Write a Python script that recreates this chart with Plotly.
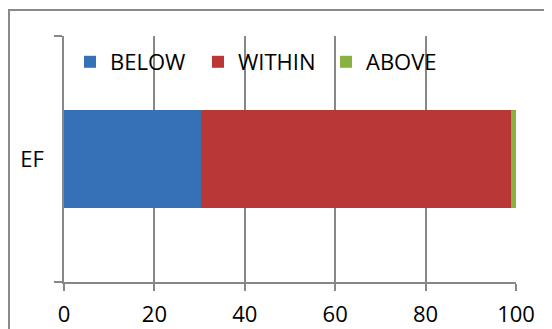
import plotly.graph_objects as go

categories = ["EF"]
series_names = ["BELOW", "WITHIN", "ABOVE"]
below = [30.4]
within = [68.4]
above = [1.2]
x_ticks = [0, 20, 40, 60, 80, 100]

colors = ["#3670b6", "#b93836", "#89b13f"]
values = [below, within, above]

W, H = 552, 329
OFF = 8  # page body margin
L, R, T, B = 64 - OFF, 516 - OFF, 36 - OFF, 282 - OFF

fig = go.Figure()
for name, vals, col in zip(series_names, values, colors):
    fig.add_trace(go.Bar(
        y=categories, x=vals, name=name, orientation="h",
        marker=dict(color=col, line=dict(width=0)),
        width=0.4,
    ))

grid = "#878787"
fig.update_layout(
    width=W, height=H,
    barmode="stack",
    margin=dict(l=L, r=W - R, t=T, b=H - B, pad=0, autoexpand=False),
    paper_bgcolor="white", plot_bgcolor="white",
    font=dict(family="Open Sans", size=22, color="black"),
    showlegend=True,
    legend=dict(
        orientation="h", x=(70 - 64) / (R - L), y=(282 - 62) / (B - T),
        xanchor="left", yanchor="middle",
        font=dict(family="Open Sans", size=22, color="black"),
        bgcolor="rgba(0,0,0,0)", itemwidth=30, tracegroupgap=0,
        entrywidth=83, entrywidthmode="pixels",
        traceorder="normal",
    ),
    xaxis=dict(
        range=[0, 100], tickvals=x_ticks, ticktext=[str(v) for v in x_ticks],
        showgrid=True, gridcolor=grid, gridwidth=1.5,
        zeroline=False, showline=True, linecolor=grid, linewidth=1.5,
        ticks="outside", ticklen=7, tickcolor=grid, tickwidth=1.5,
        ticklabelstandoff=5, fixedrange=True, automargin=False,
    ),
    yaxis=dict(
        type="category", range=[-0.5, 0.5],
        showgrid=False, zeroline=False, showline=True, linecolor=grid, linewidth=1.5,
        ticks="outside", ticklen=8, tickcolor=grid, tickwidth=1.5,
        tickson="boundaries", ticklabelstandoff=14, fixedrange=True, automargin=False,
    ),
    shapes=[dict(
        type="rect", xref="paper", yref="paper",
        x0=(9 - 64) / (R - L), x1=(W + 20 - 64) / (R - L),
        y0=(282 - (H + 20)) / (B - T), y1=(282 - 10) / (B - T),
        line=dict(color="#898989", width=2), fillcolor="rgba(0,0,0,0)",
        layer="below",
    )],
)

fig.write_html("out.html")
